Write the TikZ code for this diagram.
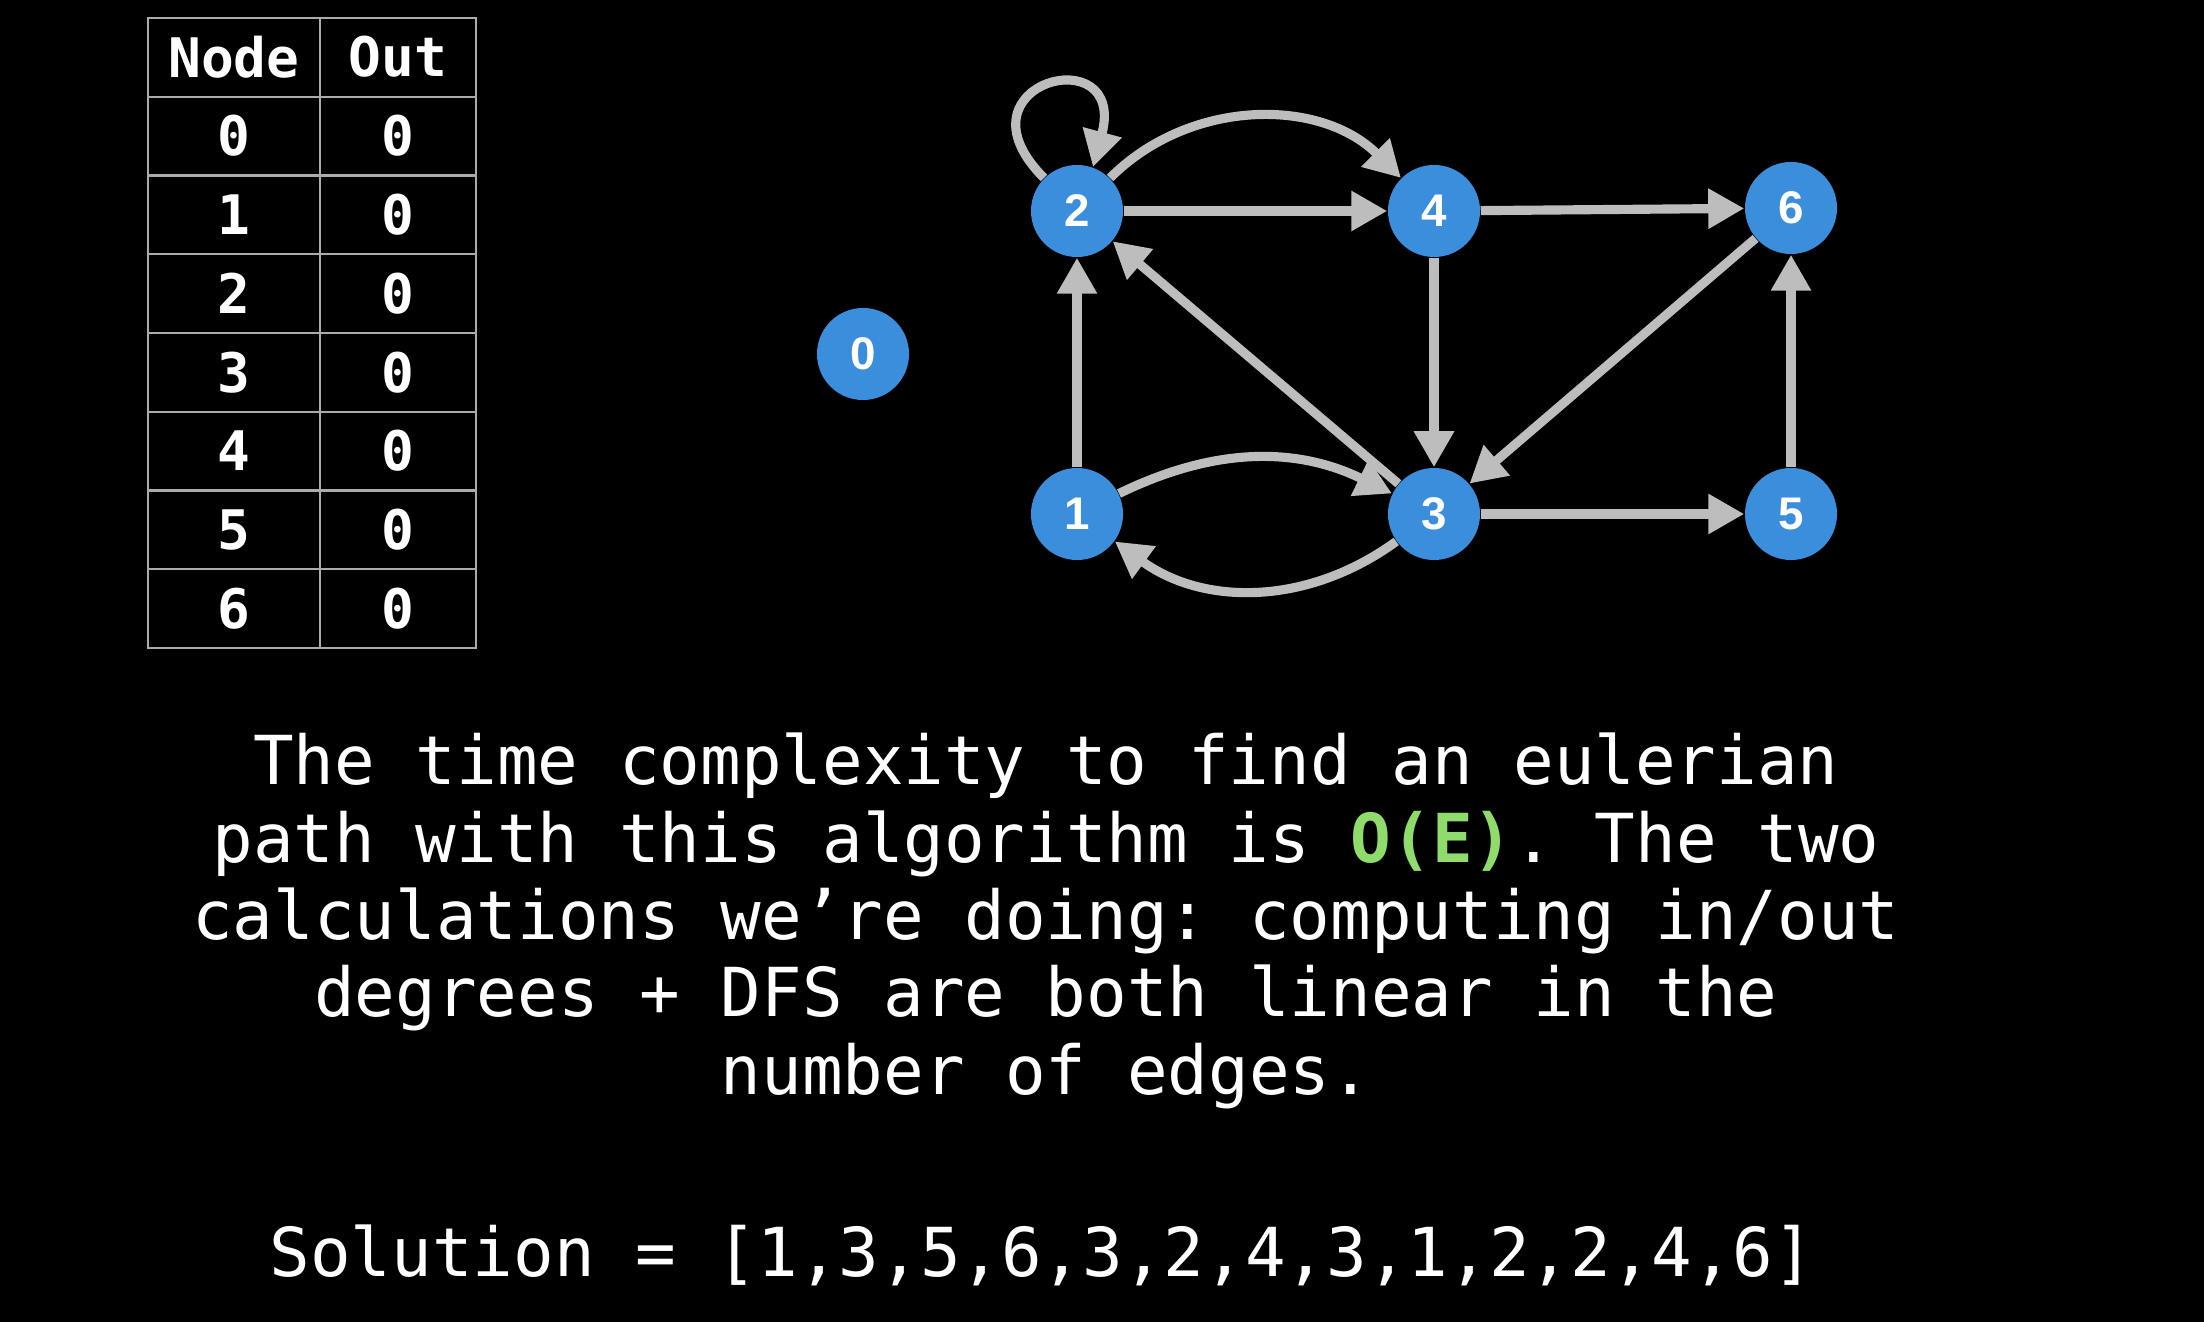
\documentclass[tikz,border=0pt]{standalone}
\usepackage{fontspec}
\usepackage{xcolor}
\usepackage{tikz}
\usetikzlibrary{arrows.meta,positioning,calc}
\newfontfamily\codefont{DejaVu Sans Mono}
\newfontfamily\labelfont{Liberation Sans}
\definecolor{Ground}{HTML}{000000}
\definecolor{Vertex}{HTML}{3B8EDB}
\definecolor{Edge}{HTML}{BDBDBD}
\definecolor{Rule}{HTML}{ABABAB}
\definecolor{Lime}{HTML}{8FDB6B}
\frenchspacing
\tikzset{
  vtx/.style={
    circle, fill=Vertex, draw=none, minimum size=9.2mm, inner sep=0pt,
    text=white, font=\labelfont\bfseries\fontsize{13}{13}\selectfont
  },
  edge/.style={-{Triangle[length=3.6mm,width=3.8mm]},line width=2.6pt,draw=Edge},
  cell/.style={text=white,font=\codefont\bfseries\fontsize{15.5}{18}\selectfont},
  grid/.style={draw=Rule,line width=0.7pt},
  body/.style={text=white,align=center,font=\codefont\fontsize{19.2}{22}\selectfont}
}
\begin{document}
\begin{tikzpicture}[x=0.01cm,y=-0.01cm]
  \fill[Ground] (0,0) rectangle (2204,1322);
  \useasboundingbox (0,0) rectangle (2204,1322);
  % out degree table
  \draw[grid] (148,18) rectangle (476,648);
  \draw[grid] (320,18) -- (320,648);
  \foreach \r in {1,...,7}
    \draw[grid] (148,18+78.75*\r) -- (476,18+78.75*\r);
  \node[cell] (hNode) at (234,57) {Node};
  \node[cell] (hOut) at (398,57) {Out};
  \foreach \r in {0,...,6} {
    \node[cell] (n\r) at (234,136+78.75*\r) {\r};
    \node[cell] (o\r) at (398,136+78.75*\r) {0};
  }
  % graph
  \node[vtx] (v0) at (863,354) {0};
  \node[vtx] (v1) at (1077,514) {1};
  \node[vtx] (v2) at (1077,211) {2};
  \node[vtx] (v3) at (1434,514) {3};
  \node[vtx] (v4) at (1434,211) {4};
  \node[vtx] (v5) at (1791,514) {5};
  \node[vtx] (v6) at (1791,208) {6};
  \draw[edge] (v2.135) to[out=135,in=75,min distance=1.35cm] (v2.70);
  \draw[edge] (v2) to[bend left=45] (v4);
  \draw[edge] (v2) -- (v4);
  \draw[edge] (v4) -- (v6);
  \draw[edge] (v4) -- (v3);
  \draw[edge] (v6) -- (v3);
  \draw[edge] (v3) -- (v2);
  \draw[edge] (v1) -- (v2);
  \draw[edge] (v1) to[bend left=26] (v3);
  \draw[edge] (v3) to[bend left=36] (v1);
  \draw[edge] (v3) -- (v5);
  \draw[edge] (v5) -- (v6);
  % explanation
  \node[body] (txt) at (1046,921) {The time complexity to find an eulerian\\path with this algorithm is \textcolor{Lime}{\bfseries O(E)}. The two\\calculations we’re doing: computing in/out\\degrees + DFS are both linear in the\\number of edges.};
  \node[body] (sol) at (1042,1255) {Solution = [1,3,5,6,3,2,4,3,1,2,2,4,6]};
\end{tikzpicture}
\end{document}
